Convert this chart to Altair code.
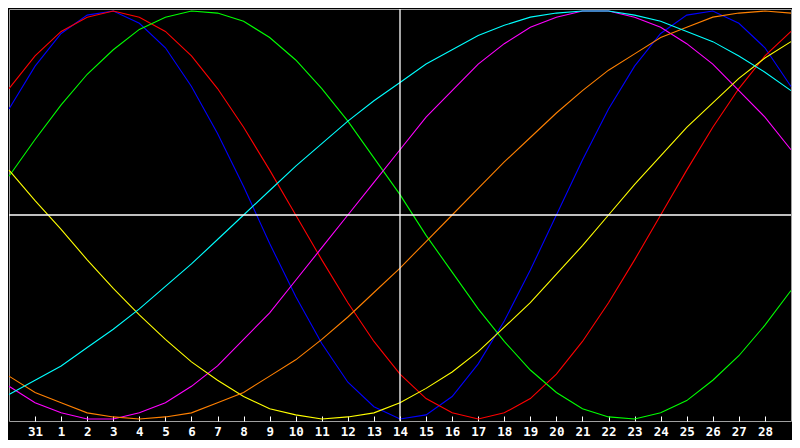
import altair as alt
import pandas as pd

# Day axis: first point is the 30th of the previous month (index -1), last is the 29th (index 29)
day_index = list(range(-1, 30))
tick_values = list(range(0, 29))
tick_labels = ["31"] + [str(d) for d in range(1, 29)]
today_index = [14]

physical = [0.52, 0.73, 0.89, 0.98, 1.00, 0.94, 0.82, 0.63, 0.40, 0.14, -0.14, -0.40, -0.63, -0.82, -0.94, -1.00,
            -0.98, -0.89, -0.73, -0.52, -0.27, 0.00, 0.27, 0.52, 0.73, 0.89, 0.98, 1.00, 0.94, 0.82, 0.63]
emotional = [0.62, 0.78, 0.90, 0.97, 1.00, 0.97, 0.90, 0.78, 0.62, 0.43, 0.22, 0.00, -0.22, -0.43, -0.62, -0.78,
             -0.90, -0.97, -1.00, -0.97, -0.90, -0.78, -0.62, -0.43, -0.22, 0.00, 0.22, 0.43, 0.62, 0.78, 0.90]
intellectual = [0.19, 0.37, 0.54, 0.69, 0.81, 0.91, 0.97, 1.00, 0.99, 0.95, 0.87, 0.76, 0.62, 0.46, 0.28, 0.10,
                -0.10, -0.28, -0.46, -0.62, -0.76, -0.87, -0.95, -0.99, -1.00, -0.97, -0.91, -0.81, -0.69, -0.54, -0.37]
intuitive = [-0.84, -0.92, -0.97, -1.00, -1.00, -0.97, -0.92, -0.84, -0.74, -0.61, -0.48, -0.32, -0.16, 0.00, 0.16, 0.32,
             0.48, 0.61, 0.74, 0.84, 0.92, 0.97, 1.00, 1.00, 0.97, 0.92, 0.84, 0.74, 0.61, 0.48, 0.32]
aesthetic = [0.22, 0.07, -0.07, -0.22, -0.36, -0.49, -0.61, -0.72, -0.81, -0.89, -0.95, -0.98, -1.00, -0.99, -0.97, -0.92,
             -0.85, -0.77, -0.67, -0.55, -0.43, -0.29, -0.15, 0.00, 0.15, 0.29, 0.43, 0.55, 0.67, 0.77, 0.85]
awareness = [-0.79, -0.87, -0.92, -0.97, -0.99, -1.00, -0.99, -0.97, -0.92, -0.87, -0.79, -0.71, -0.61, -0.50, -0.38, -0.26,
             -0.13, 0.00, 0.13, 0.26, 0.38, 0.50, 0.61, 0.71, 0.79, 0.87, 0.92, 0.97, 0.99, 1.00, 0.99]
spiritual = [-0.88, -0.81, -0.74, -0.65, -0.56, -0.46, -0.35, -0.24, -0.12, 0.00, 0.12, 0.24, 0.35, 0.46, 0.56, 0.65,
             0.74, 0.81, 0.88, 0.93, 0.97, 0.99, 1.00, 1.00, 0.98, 0.95, 0.90, 0.85, 0.78, 0.70, 0.61]

series_names = ["Physical", "Emotional", "Intellectual", "Intuitive", "Aesthetic", "Awareness", "Spiritual"]
series_values = [physical, emotional, intellectual, intuitive, aesthetic, awareness, spiritual]
series_colors = ["#0000ff", "#ff0000", "#00ff00", "#ff00ff", "#ffff00", "#ff8000", "#00ffff"]

rows = []
for name, vals in zip(series_names, series_values):
    for d, v in zip(day_index, vals):
        rows.append({"day": d, "value": v, "series": name})
df = pd.DataFrame(rows)

label_expr = "[" + ",".join("'" + s + "'" for s in tick_labels) + "][datum.value]"

x_scale = alt.Scale(domain=[-1, 29], nice=False, zero=False)
y_scale = alt.Scale(domain=[-1.01, 1.01], nice=False, zero=False)

x_axis = alt.Axis(
    values=tick_values, labelExpr=label_expr, title=None, grid=False, domain=False,
    ticks=True, tickSize=5, tickColor="white", tickWidth=1, offset=-5,
    labelColor="white", labelFont="DejaVu Sans Mono", labelFontWeight="bold", labelFontSize=12.5,
    labelPadding=10, labelBaseline="middle", labelFlush=False, labelOverlap=False,
)

lines = alt.Chart(df).mark_line(strokeWidth=1.1, interpolate="linear").encode(
    x=alt.X("day:Q", scale=x_scale, axis=x_axis),
    y=alt.Y("value:Q", scale=y_scale, axis=None),
    color=alt.Color("series:N", scale=alt.Scale(domain=series_names, range=series_colors), legend=None),
    detail="series:N",
)

hrule = alt.Chart(pd.DataFrame({"v": [0]})).mark_rule(color="white", strokeWidth=1.3).encode(
    y=alt.Y("v:Q", scale=y_scale, axis=None)
)
vrule = alt.Chart(pd.DataFrame({"d": today_index})).mark_rule(color="white", strokeWidth=1.3).encode(
    x=alt.X("d:Q", scale=x_scale, axis=x_axis)
)

chart = alt.layer(lines, hrule, vrule).properties(
    width=782, height=412,
    padding={"left": 1, "right": 1, "top": 1, "bottom": 19},
    autosize=alt.AutoSizeParams(type="none"),
    background="black",
).configure_view(stroke="#a0a0a0", strokeWidth=1)

chart.save("out.html", embed_options={"renderer": "svg", "actions": False})
